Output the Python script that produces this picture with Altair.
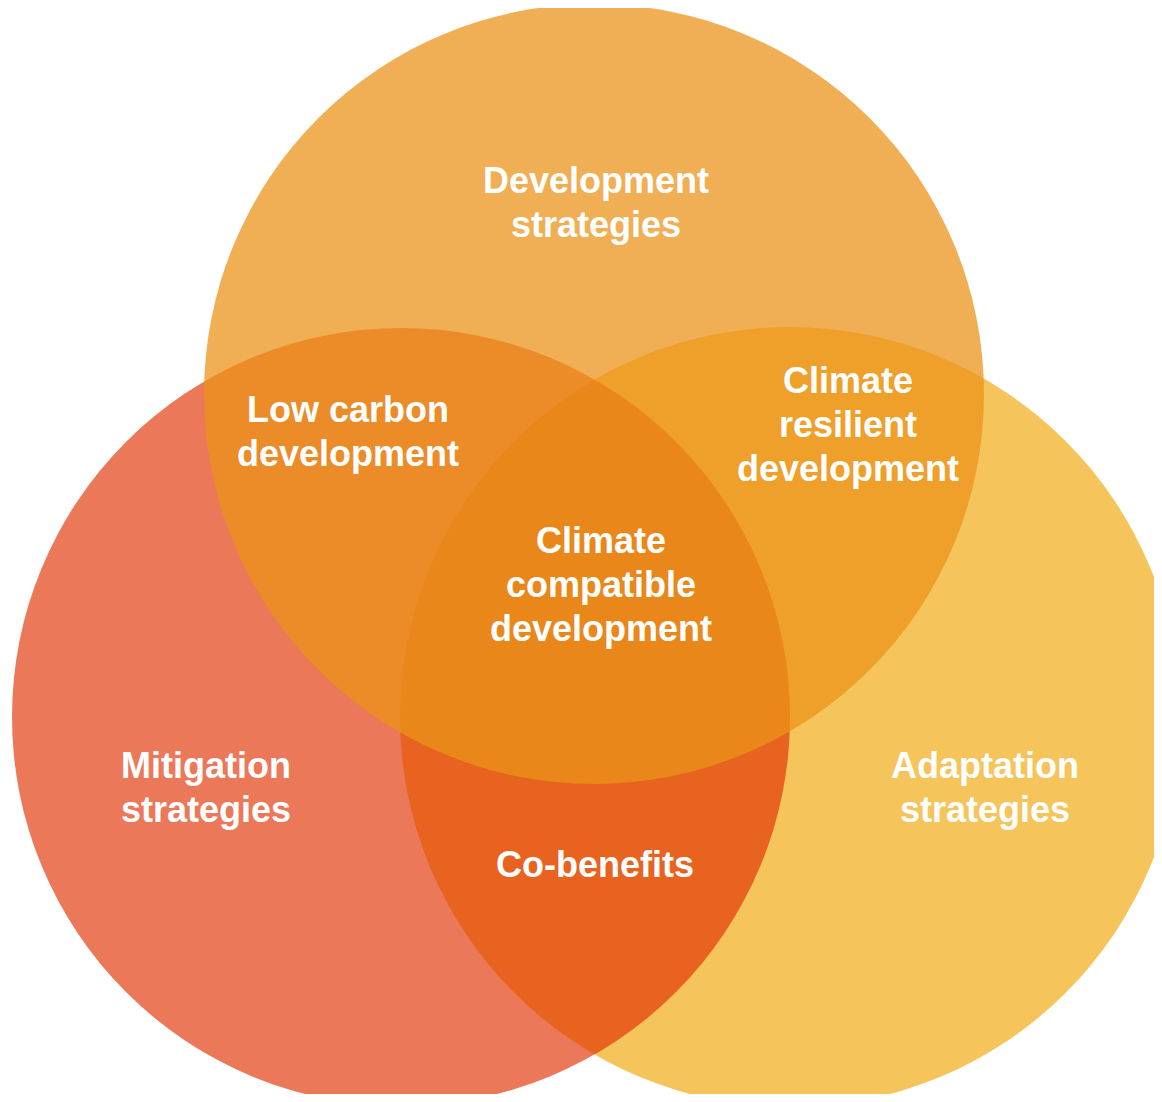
import altair as alt
import pandas as pd

# Circles (drawn bottom to top): centre, radius, colour, opacity
circle_names = ["Adaptation strategies", "Mitigation strategies", "Development strategies"]
circle_cx = [790, 401, 594]
circle_cy = [717, 717, 394]
circle_radius = [390, 389, 390]
circle_colors = ["#F5C45B", "#DF2F00", "#EB931A"]
circle_opacity = [1.0, 0.65, 0.744]
circle_order = [1, 2, 3]

# Labels (y = position of the first line)
label_text = [
    "Development\nstrategies",
    "Low carbon\ndevelopment",
    "Climate\nresilient\ndevelopment",
    "Climate\ncompatible\ndevelopment",
    "Mitigation\nstrategies",
    "Adaptation\nstrategies",
    "Co-benefits",
]
label_x = [596, 348, 848, 601, 206, 985, 595]
label_y = [182, 411, 382, 542, 767, 767, 866]

W, H = 1146, 1086
X0, Y0 = 8, 8

circles = pd.DataFrame({
    "name": circle_names,
    "cx": circle_cx,
    "cy": circle_cy,
    "size": [(2 * r) ** 2 for r in circle_radius],
    "color": circle_colors,
    "opacity": circle_opacity,
    "z": circle_order,
})
labels = pd.DataFrame({"text": label_text, "x": label_x, "y": label_y})

xscale = alt.Scale(domain=[X0, X0 + W], nice=False, zero=False)
yscale = alt.Scale(domain=[Y0, Y0 + H], nice=False, zero=False, reverse=True)

circ = alt.Chart(circles).mark_circle(clip=True, strokeWidth=0).encode(
    x=alt.X("cx:Q", scale=xscale, axis=None),
    y=alt.Y("cy:Q", scale=yscale, axis=None),
    size=alt.Size("size:Q", scale=None, legend=None),
    color=alt.Color("color:N", scale=None, legend=None),
    opacity=alt.Opacity("opacity:Q", scale=None, legend=None),
    order=alt.Order("z:Q"),
)

txt = alt.Chart(labels).mark_text(
    color="white",
    font="Liberation Sans",
    fontWeight="bold",
    fontSize=36,
    lineBreak="\n",
    lineHeight=44,
    align="center",
    baseline="middle",
).encode(
    x=alt.X("x:Q", scale=xscale, axis=None),
    y=alt.Y("y:Q", scale=yscale, axis=None),
    text="text:N",
)

chart = alt.layer(circ, txt).properties(
    width=W, height=H,
    autosize=alt.AutoSizeParams(type="none"),
    padding=0,
    background="white",
).configure_view(stroke=None)

chart.save("out.html", embed_options={"renderer": "svg", "actions": False})
